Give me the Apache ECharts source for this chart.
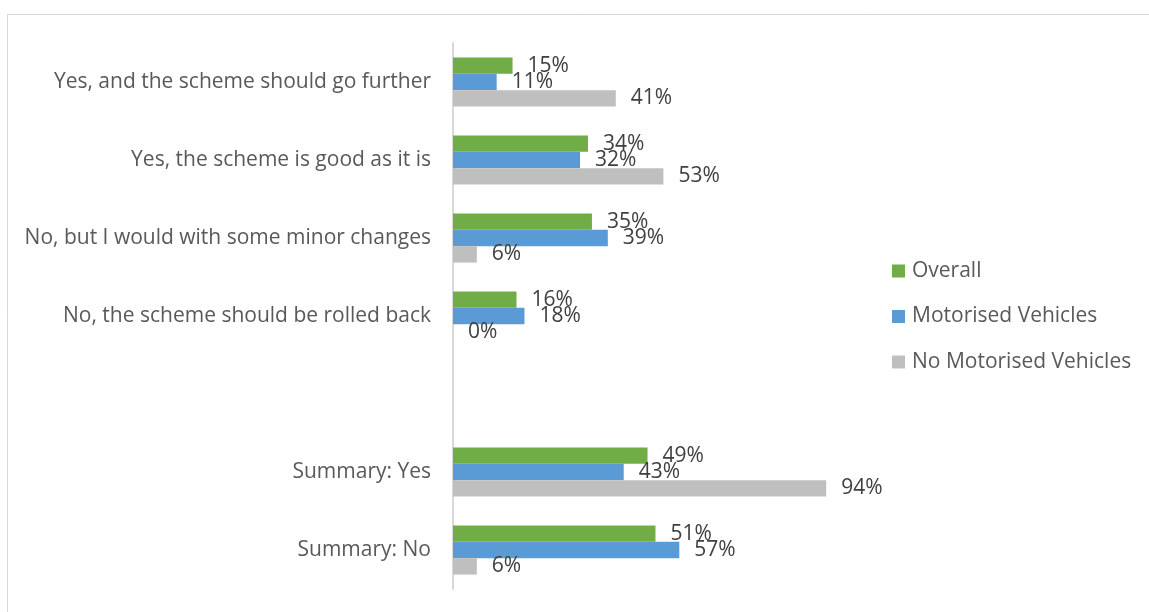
<!DOCTYPE html>
<html>
<head>
<meta charset="utf-8">
<script src="https://cdn.jsdelivr.net/npm/echarts@6/dist/echarts.min.js"></script>
<style>
html,body{margin:0;padding:0;background:#fff;}
#chart{width:1149px;height:612px;}
</style>
</head>
<body>
<div id="chart"></div>
<script>
const categories = [
  'Yes, and the scheme should go further',
  'Yes, the scheme is good as it is',
  'No, but I would with some minor changes',
  'No, the scheme should be rolled back',
  '',
  'Summary: Yes',
  'Summary: No'
];
const seriesNames = ['Overall', 'Motorised Vehicles', 'No Motorised Vehicles'];
const overall = [15, 34, 35, 16, null, 49, 51];
const motorised = [11, 32, 39, 18, null, 43, 57];
const noMotorised = [41, 53, 6, 0, null, 94, 6];
const colors = ['#70AD47', '#5B9BD5', '#BFBFBF'];

const FONT = '"Open Sans", sans-serif';
const chart = echarts.init(document.getElementById('chart'), null, {renderer: 'canvas'});
const seriesData = [overall, motorised, noMotorised];

chart.setOption({
  animation: false,
  backgroundColor: '#ffffff',
  textStyle: {fontFamily: FONT},
  graphic: [{
    type: 'rect',
    shape: {x: 7.5, y: 14.5, width: 1200, height: 700},
    style: {fill: 'none', stroke: '#D9D9D9', lineWidth: 1},
    silent: true
  }],
  grid: {left: 453, right: 299, top: 43, bottom: 23, containLabel: false},
  legend: {
    orient: 'vertical',
    left: 887,
    top: 254,
    itemWidth: 13,
    itemHeight: 13,
    itemGap: 21.5,
    icon: 'rect',
    data: seriesNames,
    textStyle: {fontFamily: FONT, fontSize: 21, color: '#595959', lineHeight: 24, padding: [0, 0, 0, 2]}
  },
  xAxis: {
    type: 'value',
    min: 0,
    max: 100,
    show: false,
    splitLine: {show: false}
  },
  yAxis: {
    type: 'category',
    data: categories,
    inverse: true,
    axisLine: {show: true, lineStyle: {color: '#D9D9D9', width: 2}},
    axisTick: {show: false},
    axisLabel: {fontFamily: FONT, fontSize: 21, color: '#595959', margin: 22, padding: [4, 0, 0, 0]}
  },
  series: seriesNames.map((name, i) => ({
    name: name,
    type: 'bar',
    data: seriesData[i],
    barGap: '0%',
    barCategoryGap: '37%',
    itemStyle: {color: colors[i]},
    label: {
      show: true,
      position: 'right',
      distance: 15,
      formatter: p => (p.value === null || p.value === undefined) ? '' : p.value + '%',
      fontFamily: FONT,
      fontSize: 21,
      color: '#404040'
    }
  }))
});
</script>
</body>
</html>
